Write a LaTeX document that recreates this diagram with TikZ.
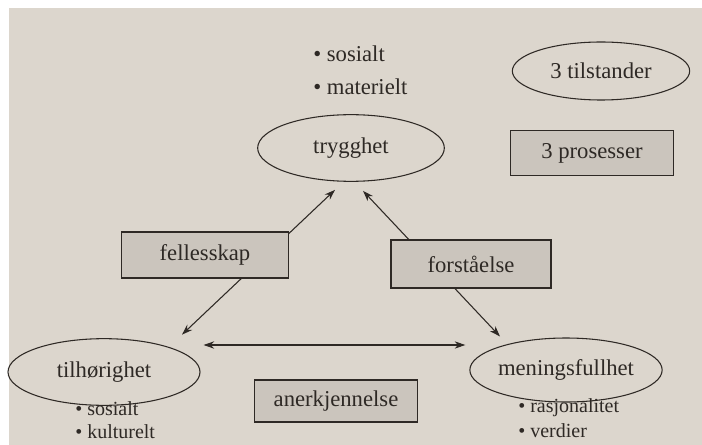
\documentclass[tikz,border=0pt]{standalone}
\usepackage{fontspec}
\setmainfont{Liberation Serif}
\usetikzlibrary{shapes.geometric,arrows.meta,calc}
\definecolor{page}{HTML}{DCD6CD}
\definecolor{boxfill}{HTML}{CBC5BD}
\definecolor{ink}{HTML}{2E2925}
\tikzset{
  state/.style={ellipse, draw=ink, line width=0.8pt, text=ink, inner sep=0pt,
    font=\fontsize{17}{20}\selectfont},
  proc/.style={rectangle, draw=ink, fill=boxfill, line width=0.8pt, text=ink, inner sep=0pt,
    font=\fontsize{17}{20}\selectfont},
  bul/.style={text=ink, anchor=west, inner sep=0pt, font=\fontsize{17}{20}\selectfont},
  bulsm/.style={text=ink, anchor=west, inner sep=0pt, font=\fontsize{15}{18}\selectfont},
  conn/.style={draw=ink, line width=0.8pt,
    {Stealth[length=8pt,width=5.5pt]}-{Stealth[length=8pt,width=5.5pt]}}
}
\begin{document}
\begin{tikzpicture}[x=0.75pt,y=-0.75pt]
\fill[white] (0,0) rectangle (702,445);
\fill[page] (9,8) rectangle (702,445);
\useasboundingbox (0,0) rectangle (702,445);

% states
\node[state, minimum width=140pt, minimum height=50pt] (trygghet) at (351,148) {trygghet};
\node[state, minimum width=133pt, minimum height=43.5pt] (tilstander) at (601,71) {3 tilstander};
\node[state, minimum width=144pt, minimum height=50pt] (tilh) at (104,372) {tilhørighet};
\node[state, minimum width=133pt, minimum height=48pt] (mening) at (566,370) {meningsfullhet};

% connectors
\draw[conn] ($(tilh.north)+(78,-3.5)$) -- ($(trygghet.south)+(-16,8)$);
\draw[conn] ($(trygghet.south)+(12,9)$) -- ($(mening.north)+(-66,-1)$);
\draw[conn] ($(tilh.east)+(3,-27)$) -- ($(mening.west)+(-4,-25)$);

% processes
\node[proc, minimum width=122pt, minimum height=34pt] (prosesser) at (592,153) {3 prosesser};
\node[proc, minimum width=125pt, minimum height=34.5pt] (fellesskap) at (205,255) {fellesskap};
\node[proc, minimum width=120pt, minimum height=36pt] (forstaelse) at (471,264) {forståelse};
\node[proc, minimum width=122pt, minimum height=31.5pt] (anerkj) at (336,401) {anerkjennelse};

% bullet lists
\node[bul] (b1) at (313,54) {• sosialt};
\node[bul] (b2) at (313,87) {• materielt};
\node[bulsm] (b3) at (75,409) {• sosialt};
\node[bulsm] (b4) at (75,432) {• kulturelt};
\node[bulsm] (b5) at (518,408) {• rasjonalitet};
\node[bulsm] (b6) at (518,431) {• verdier};
\end{tikzpicture}
\end{document}
